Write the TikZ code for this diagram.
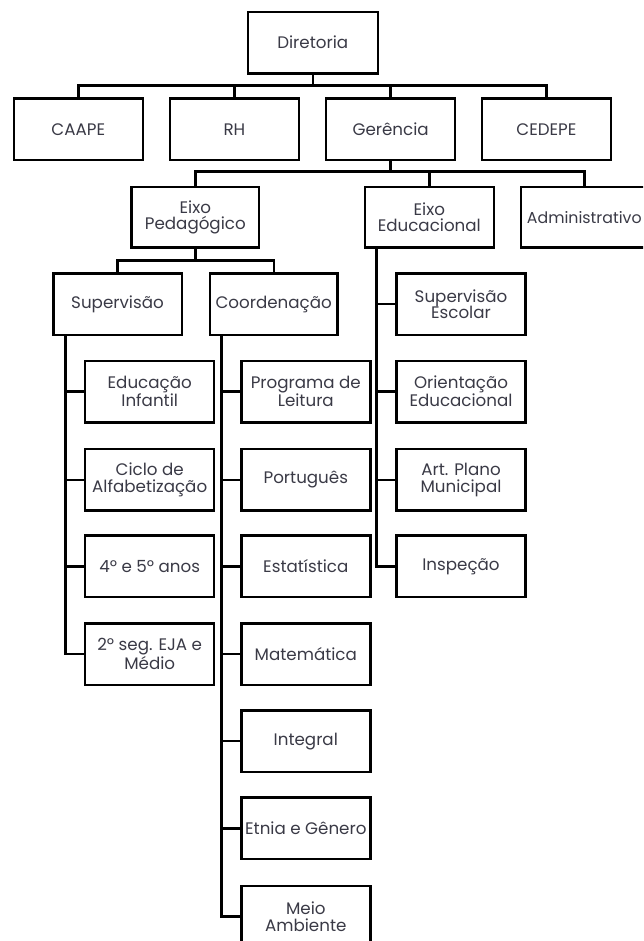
\documentclass[tikz,border=0pt]{standalone}
\usepackage{fontspec}
\setmainfont{Poppins}
\definecolor{txt}{RGB}{58,58,70}
\tikzset{
  box/.style={draw=black, line width=2.4pt, minimum width=129pt, minimum height=61.5pt,
    inner sep=0pt, align=center, text=txt, font=\fontsize{16.7}{16.7}\selectfont},
  row3/.style={box, minimum height=60pt},
  conn/.style={draw=black, line width=2.4pt}
}
\begin{document}
\begin{tikzpicture}[x=1pt,y=-1pt]
\useasboundingbox (0,0) rectangle (643,941);
\clip (0,0) rectangle (643,941);
\fill[white] (0,0) rectangle (643,941);
% level 1
\node[box, minimum width=130pt, minimum height=61.3pt] (dir) at (312.7,42.7) {Diretoria};
% level 2
\node[box] (caape) at (78.3,129.2) {CAAPE};
\node[box] (rh) at (234.4,129.2) {RH};
\node[box] (ger) at (390.6,129.2) {Gerência};
\node[box] (cedepe) at (546.4,129.2) {CEDEPE};
% level 3
\node[row3, minimum width=127.5pt] (eped) at (195.3,217.3) {Eixo\\Pedagógico};
\node[row3] (eedu) at (429.3,217.3) {Eixo\\Educacional};
\node[row3, minimum width=127pt, font=\fontsize{15.8}{16.7}\selectfont] (adm) at (584.3,217.3) {Administrativo};
% level 4
\node[box, minimum width=128.4pt] (sup) at (117.5,304.2) {Supervisão};
\node[box, minimum width=127.3pt] (coord) at (273.7,304.2) {Coordenação};
% Supervisão column
\node[box] (ei) at (149.7,391.6) {Educação\\Infantil};
\node[box] (ciclo) at (149.7,479.8) {Ciclo de\\Alfabetização};
\node[box] (anos) at (149.7,566.4) {4º e 5º anos};
\node[box] (eja) at (149.7,654.2) {2º seg. EJA e\\Médio};
% Coordenação column
\node[box] (prog) at (305.8,391.6) {Programa de\\Leitura};
\node[box] (port) at (305.8,479.8) {Português};
\node[box] (est) at (305.8,566.4) {Estatística};
\node[box] (mat) at (305.8,654.2) {Matemática};
\node[box] (integ) at (305.8,741.2) {Integral};
\node[box] (etnia) at (305.8,828.3) {Etnia e Gênero};
\node[box] (meio) at (305.8,916.6) {Meio\\Ambiente};
% Eixo Educacional column
\node[box] (supesc) at (461,304.2) {Supervisão\\Escolar};
\node[box] (orient) at (461,391.6) {Orientação\\Educacional};
\node[box] (art) at (461,479.8) {Art. Plano\\Municipal};
\node[box] (insp) at (461,566.4) {Inspeção};
% connectors level 1 -> 2
\path (caape.north) ++(0,-11.6) coordinate (bar1);
\draw[conn] (caape.north) |- (bar1 -| cedepe.north) -- (cedepe.north);
\foreach \c in {dir.south,rh.north,ger.north}
  \draw[conn] (\c) -- (\c |- bar1);
% Gerência -> level 3
\path (eped.north) ++(0,-14.6) coordinate (bar2);
\draw[conn] (eped.north) |- (bar2 -| adm.north) -- (adm.north);
\foreach \c in {ger.south,eedu.north}
  \draw[conn] (\c) -- (\c |- bar2);
% Eixo Pedagógico -> level 4
\path (sup.north) ++(0,-11.6) coordinate (bar3);
\draw[conn] (sup.north) |- (bar3 -| coord.north) -- (coord.north);
\draw[conn] (eped.south) -- (eped.south |- bar3);
% trunks
\coordinate (ts) at ([xshift=13.4pt]sup.south west);
\draw[conn] (ts) |- (eja.west);
\foreach \c in {ei,ciclo,anos}
  \draw[conn] (\c.west) -- (\c.west -| ts);
\coordinate (tc) at ([xshift=12.5pt]coord.south west);
\draw[conn] (tc) |- (meio.west);
\foreach \c in {prog,port,est,mat,integ,etnia}
  \draw[conn] (\c.west) -- (\c.west -| tc);
\coordinate (te) at ([xshift=13pt]eedu.south west);
\draw[conn] (te) |- (insp.west);
\foreach \c in {supesc,orient,art}
  \draw[conn] (\c.west) -- (\c.west -| te);
\end{tikzpicture}
\end{document}
